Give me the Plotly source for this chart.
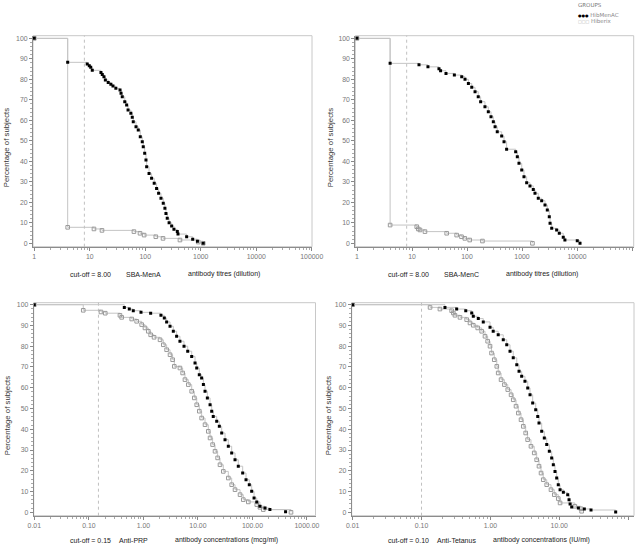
import plotly.graph_objects as go

# ---------------- data (value, percentage of subjects >= value) ----------------
# Panel 1: SBA-MenA (titres)
mena_hib_x = [1, 4, 9.0, 9.8, 10.4, 11.1, 15.9, 16.8, 18.0, 19.1, 21.5, 24.0, 26.2, 29.5, 35.1, 36.6,
              38.5, 42.7, 46.2, 49.0, 55.0, 58.3, 60.8, 68.1, 74.8, 81.3, 88.3, 92.0, 97.7, 103, 106,
              117, 130, 145, 160, 174, 192, 211, 226, 236, 249, 269, 299, 329, 378, 389, 557, 716, 871, 1109]
mena_hib_y = [100, 88.3, 87.5, 86.6, 85.9, 84.4, 83.4, 82.4, 81.3, 79.7, 78.5, 77.6, 76.7, 75.6, 74.8, 73.2,
              71.5, 69.1, 67.5, 65.0, 63.4, 61.5, 59.3, 56.9, 55.3, 52.0, 49.6, 47.1, 43.9, 40.6, 37.4,
              34.1, 31.7, 29.3, 26.8, 24.4, 22.0, 19.5, 17.1, 14.6, 12.2, 10.0, 8.4, 6.8, 5.7, 4.5, 3.2, 2.0, 1.0, 0.0]
mena_hbx_x = [1, 4, 11.9, 16.6, 62.5, 80.4, 95.5, 155, 209, 422, 902, 1109]
mena_hbx_y = [100, 7.8, 7.0, 6.3, 5.7, 4.9, 4.0, 3.2, 2.4, 1.6, 0.6, 0.0]

# Panel 2: SBA-MenC (titres)
menc_hib_x = [1, 4, 13.4, 19.5, 30.9, 33.1, 41.5, 58.9, 80.2, 92.0, 106, 122, 140, 160, 177, 212, 244,
              273, 301, 324, 355, 427, 471, 525, 767, 822, 881, 989, 1086, 1216, 1396, 1603, 1722,
              1977, 2280, 2618, 2884, 3133, 3236, 3467, 4266, 4764, 5623, 6026, 10116, 11350]
menc_hib_y = [100, 87.8, 87.1, 86.1, 85.2, 84.2, 82.9, 82.1, 81.3, 80.0, 78.0, 76.1, 74.0, 71.5, 69.1, 66.6, 64.2,
              61.8, 59.3, 56.9, 54.4, 52.3, 49.6, 45.9, 44.7, 42.2, 39.0, 35.8, 32.5, 29.6, 28.0, 26.3, 24.4,
              22.0, 20.8, 18.7, 16.2, 13.0, 9.8, 7.3, 6.5, 4.9, 2.9, 1.6, 1.3, 0.0]
menc_hbx_x = [1, 4, 12.2, 13.0, 14.0, 17.2, 42.7, 64.9, 79.4, 91.2, 112, 191, 1549]
menc_hbx_y = [100, 8.9, 8.1, 7.0, 6.5, 5.7, 4.9, 4.0, 3.2, 2.4, 1.6, 1.1, 0.0]

# Panel 3: Anti-PRP (mcg/ml)
prp_hib_x = [0.01, 0.447, 0.552, 0.653, 0.904, 1.36, 2.10, 2.42, 2.67, 3.08, 3.54, 4.07, 4.68, 5.56, 6.50,
             7.69, 8.85, 9.51, 10.6, 11.7, 12.6, 13.5, 14.9, 16.7, 17.9, 19.1, 22.1, 24.7, 27.3, 31.4, 36.1,
             41.6, 47.9, 55.0, 66.2, 76.2, 87.5, 96.8, 107, 120, 137, 170, 209, 405]
prp_hib_y = [100, 98.7, 97.9, 97.1, 96.3, 95.9, 94.9, 93.6, 91.7, 89.6, 87.2, 84.8, 82.4, 80.0, 77.6,
             75.1, 71.9, 69.5, 66.3, 64.7, 61.5, 58.3, 55.1, 51.8, 48.7, 46.2, 43.8, 41.4, 38.2, 35.0, 31.8,
             28.6, 25.3, 22.2, 18.9, 15.7, 13.3, 10.1, 6.9, 5.0, 2.9, 2.1, 1.3, 0.3]
prp_hbx_x = [0.01, 0.079, 0.167, 0.200, 0.372, 0.400, 0.611, 0.754, 0.931, 1.07, 1.23, 1.36, 1.57, 2.02, 2.32,
             2.67, 3.08, 3.44, 3.69, 4.68, 5.25, 5.79, 6.67, 7.69, 8.59, 9.51, 10.6, 11.7, 13.5, 15.5, 16.7,
             18.6, 20.6, 23.0, 25.4, 29.2, 36.1, 41.6, 47.9, 59.2, 67.9, 83.9, 120, 137, 158, 509]
prp_hbx_y = [100, 97.3, 96.5, 95.9, 94.9, 93.9, 93.1, 92.0, 90.4, 88.8, 87.2, 85.5, 84.3, 83.1, 80.7,
             78.3, 75.9, 73.5, 70.3, 69.5, 67.1, 63.9, 61.5, 58.3, 55.1, 51.8, 48.7, 45.4, 42.2, 39.0, 35.8,
             32.6, 29.4, 26.2, 22.9, 19.7, 16.5, 13.3, 10.9, 8.5, 6.1, 5.0, 3.7, 2.4, 1.3, 0.0]

# Panel 4: Anti-Tetanus (IU/ml)
tet_hib_x = [0.01, 0.219, 0.324, 0.439, 0.536, 0.565, 0.668, 0.789, 0.989, 1.10, 1.30, 1.54, 1.73, 1.93,
             2.15, 2.42, 2.61, 2.85, 3.18, 3.49, 3.77, 4.12, 4.56, 4.88, 5.09, 5.57, 6.08, 6.59, 7.19, 7.78,
             8.22, 8.69, 9.20, 9.70, 10.3, 11.5, 13.3, 13.9, 14.4, 15.2, 19.0, 23.2, 29.0, 66.2]
tet_hib_y = [100, 98.7, 97.9, 97.1, 96.0, 94.4, 93.3, 91.7, 89.1, 87.2, 85.5, 83.1, 80.7, 77.6,
             74.4, 71.1, 67.9, 65.5, 63.1, 59.9, 56.6, 52.6, 49.4, 46.2, 43.0, 39.0, 35.8, 32.6, 29.4, 26.2,
             22.9, 19.7, 16.5, 13.3, 10.9, 9.6, 8.5, 6.1, 4.0, 2.6, 2.1, 1.6, 1.1, 0.1]
tet_hbx_x = [0.01, 0.133, 0.185, 0.274, 0.290, 0.306, 0.362, 0.453, 0.506, 0.565, 0.655, 0.748, 0.836, 0.914,
             0.989, 1.04, 1.14, 1.24, 1.30, 1.43, 1.60, 1.79, 2.00, 2.15, 2.36, 2.55, 2.79, 3.01, 3.26, 3.48,
             3.89, 4.34, 4.71, 5.09, 5.45, 5.87, 6.59, 7.60, 8.49, 9.70, 10.3, 16.9, 20.7, 21.2]
tet_hbx_y = [100, 98.7, 97.9, 97.1, 96.0, 94.9, 93.9, 92.8, 91.2, 90.1, 88.8, 87.2, 84.8, 82.4,
             80.0, 76.7, 73.5, 70.3, 67.1, 63.9, 61.5, 59.1, 56.6, 54.2, 51.1, 47.8, 44.6, 41.4, 38.2, 35.0,
             31.8, 28.6, 25.3, 22.2, 18.9, 15.7, 13.3, 10.9, 8.5, 6.6, 4.5, 2.9, 1.7, 0.5]

group_names = ["HibMenAC", "Hiberix"]
cutoffs = [8.00, 8.00, 0.15, 0.10]
assays = ["SBA-MenA", "SBA-MenC", "Anti-PRP", "Anti-Tetanus"]
units = ["antibody titres (dilution)", "antibody titres (dilution)",
         "antibody concentrations (mcg/ml)", "antibody concentrations (IU/ml)"]
cutoff_labels = ["cut-off = 8.00", "cut-off = 8.00", "cut-off = 0.15", "cut-off = 0.10"]
y_ticks = [0, 10, 20, 30, 40, 50, 60, 70, 80, 90, 100]
titre_ticks = [1, 10, 100, 1000, 10000, 100000]
titre_labels = ["1", "10", "100", "1000", "10000", "100000"]
prp_ticks = [0.01, 0.1, 1, 10, 100, 1000]
prp_labels = ["0.01", "0.10", "1.00", "10.00", "100.00", "1000.00"]
tet_ticks = [0.01, 0.1, 1, 10, 100]
tet_labels = ["0.01", "0.10", "1.00", "10.00", "100.00"]

panels = [
    (mena_hib_x, mena_hib_y, mena_hbx_x, mena_hbx_y, titre_ticks, titre_labels),
    (menc_hib_x, menc_hib_y, menc_hbx_x, menc_hbx_y, titre_ticks, titre_labels),
    (prp_hib_x, prp_hib_y, prp_hbx_x, prp_hbx_y, prp_ticks, prp_labels),
    (tet_hib_x, tet_hib_y, tet_hbx_x, tet_hbx_y, tet_ticks, tet_labels),
]

# ---------------- layout geometry ----------------
W, H = 638, 547
# plot frames in pixels: (left, right, top, bottom)
frames = [(33, 312, 35.7, 246.7), (355.3, 633.7, 35.7, 246.7),
          (33.7, 315.5, 302.7, 515.7), (351.7, 634, 302.7, 515.7)]
xranges = [[-0.023, 5.005], [-0.031, 5.031], [-2.011, 3.156], [-2.0145, 2.087]]
yranges = [[-1.66, 101.3], [-1.66, 101.3], [-1.64, 100.96], [-1.64, 100.96]]

FONT = "Liberation Sans, Arial, sans-serif"
LINE_COL = "#c4c4c4"
GREY_MK = "#9a9a9a"

fig = go.Figure()
layout_axes = {}
shapes = []
annotations = []

for i, (hx, hy, gx, gy, tv, tt) in enumerate(panels):
    n = i + 1
    xa = "x" if n == 1 else f"x{n}"
    ya = "y" if n == 1 else f"y{n}"
    # Hiberix (grey open squares) drawn first, HibMenAC on top
    fig.add_trace(go.Scatter(
        x=gx, y=gy, mode="lines+markers", line=dict(shape="hv", color=LINE_COL, width=1),
        marker=dict(symbol="square-open", size=3.6, color=GREY_MK, line=dict(width=1, color=GREY_MK)),
        name=group_names[1], showlegend=False, xaxis=xa, yaxis=ya))
    fig.add_trace(go.Scatter(
        x=hx, y=hy, mode="lines+markers", line=dict(shape="hv", color=LINE_COL, width=1),
        marker=dict(symbol="square", size=3.0, color="black", line=dict(width=0)),
        name=group_names[0], showlegend=False, xaxis=xa, yaxis=ya))

    l, r, t, b = frames[i]
    xkey = "xaxis" if n == 1 else f"xaxis{n}"
    ykey = "yaxis" if n == 1 else f"yaxis{n}"
    layout_axes[xkey] = dict(
        type="log", domain=[l / W, r / W], range=xranges[i], anchor=ya, automargin=False,
        tickvals=tv, ticktext=tt, ticks="outside", ticklen=3, tickcolor="#888",
        minor=dict(ticks="outside", ticklen=2, tickcolor="#aaa", dtick="D1", showgrid=False),
        showline=True, linecolor="#8c8c8c", linewidth=1, mirror=False,
        showgrid=False, zeroline=False,
        tickfont=dict(family=FONT, size=6.9, color="#777"))
    layout_axes[ykey] = dict(
        domain=[1 - b / H, 1 - t / H], range=yranges[i], anchor=xa, automargin=False,
        tickvals=y_ticks, ticks="outside", ticklen=3, tickcolor="#888",
        minor=dict(ticks="outside", ticklen=2, tickcolor="#aaa", dtick=2, showgrid=False),
        showline=True, linecolor="#8c8c8c", linewidth=1, mirror=False,
        showgrid=False, zeroline=False,
        tickfont=dict(family=FONT, size=6.9, color="#777"))

    # light frame around the plot area
    shapes.append(dict(type="rect", xref=f"{xa} domain", yref=f"{ya} domain",
                       x0=0, x1=1, y0=0, y1=1, line=dict(color="#c8c8c8", width=1), layer="below"))
    # cut-off line
    shapes.append(dict(type="line", xref=xa, yref=f"{ya} domain", x0=cutoffs[i], x1=cutoffs[i],
                       y0=0, y1=1, line=dict(color="#b0b0b0", width=0.8, dash="dot"), layer="below"))

    # y title
    ytitle_x = [6, 330, 7, 328][i]
    annotations.append(dict(text="Percentage of subjects", textangle=-90, xref="paper", yref="paper",
                            x=ytitle_x / W, y=1 - ((t + b) / 2 + 7) / H, showarrow=False,
                            xanchor="center", yanchor="middle",
                            font=dict(family=FONT, size=7.8, color="#333")))
    # footer texts
    fy = [274, 274, 540, 540][i]
    dx = 0 if i in (0, 2) else 318
    pos = [(68, cutoff_labels[i]), ([124, 124, 117, 117][i], assays[i]), ([186, 186, 173, 173][i], units[i])]
    for px, txt in pos:
        annotations.append(dict(text=txt, xref="paper", yref="paper", x=(px + dx) / W, y=1 - fy / H,
                                showarrow=False, xanchor="left", yanchor="middle",
                                font=dict(family=FONT, size=7.0, color="#222")))

# legend (drawn as text)
annotations.append(dict(text="GROUPS", xref="paper", yref="paper", x=576 / W, y=1 - 4.5 / H,
                        showarrow=False, xanchor="left", yanchor="middle",
                        font=dict(family="DejaVu Sans", size=5.5, color="#777")))
annotations.append(dict(text="<span style='color:black;font-size:4px'>●●●</span> " + group_names[0],
                        xref="paper", yref="paper", x=576 / W, y=1 - 15 / H,
                        showarrow=False, xanchor="left", yanchor="middle",
                        font=dict(family="DejaVu Sans", size=5.5, color="#888")))
annotations.append(dict(text="<span style='color:#aaa;font-size:4px'>□□□</span> " + group_names[1],
                        xref="paper", yref="paper", x=576 / W, y=1 - 21 / H,
                        showarrow=False, xanchor="left", yanchor="middle",
                        font=dict(family="DejaVu Sans", size=5.5, color="#888")))

fig.update_layout(width=W, height=H, margin=dict(l=0, r=0, t=0, b=0, autoexpand=False),
                  paper_bgcolor="white", plot_bgcolor="white",
                  shapes=shapes, annotations=annotations, showlegend=False,
                  font=dict(family=FONT), **layout_axes)

fig.write_html("out.html", config={"displayModeBar": False},
               post_script="document.body.style.margin='0px';document.body.style.padding='0px';")
